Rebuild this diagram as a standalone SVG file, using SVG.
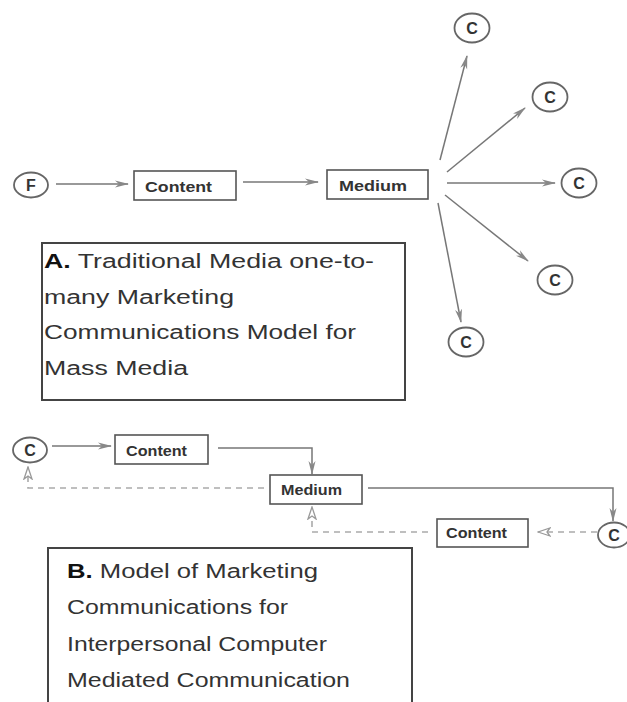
<svg xmlns="http://www.w3.org/2000/svg" width="627" height="702" viewBox="0 0 627 702">
<style>
.node{fill:#fff;stroke:#555;stroke-width:1.6}
.circ{fill:#fff;stroke:#666;stroke-width:1.8}
.lbl{font-family:"Liberation Sans",Arial,sans-serif;font-weight:bold;font-size:15px;fill:#333}
.cl{font-family:"Liberation Sans",Arial,sans-serif;font-weight:bold;font-size:16px;fill:#333;text-anchor:middle}
.cap{font-family:"Liberation Sans",Arial,sans-serif;font-size:20px;fill:#333}
.capb{font-weight:bold;fill:#111}
.box{fill:#fff;stroke:#444;stroke-width:2}
.ln{fill:none;stroke:#777;stroke-width:1.5}
.dash{fill:none;stroke:#aaa;stroke-width:1.6;stroke-dasharray:6 5}
</style>
<defs>
<marker id="ah" viewBox="0 0 14 8" refX="13" refY="4" markerWidth="14" markerHeight="8" markerUnits="userSpaceOnUse" orient="auto">
<path d="M0,0.5 L14,4 L0,7.5 L4,4 z" fill="#888"/>
</marker>
<marker id="oh" viewBox="0 0 14 10" refX="13" refY="5" markerWidth="14" markerHeight="10" markerUnits="userSpaceOnUse" orient="auto">
<path d="M1,1 L13,5 L1,9 L4,5 z" fill="#fff" stroke="#999" stroke-width="1.3"/>
</marker>
</defs>
<g id="connectors">
<line class="ln" x1="56" y1="184" x2="128" y2="184" marker-end="url(#ah)"/>
<line class="ln" x1="243" y1="182" x2="318" y2="182" marker-end="url(#ah)"/>
<line class="ln" x1="440" y1="160" x2="467" y2="56" marker-end="url(#ah)"/>
<line class="ln" x1="447" y1="172" x2="525" y2="108" marker-end="url(#ah)"/>
<line class="ln" x1="447" y1="183" x2="555" y2="183" marker-end="url(#ah)"/>
<line class="ln" x1="445" y1="195" x2="528" y2="261" marker-end="url(#ah)"/>
<line class="ln" x1="438" y1="203" x2="461" y2="322" marker-end="url(#ah)"/>
<line class="ln" x1="52" y1="446" x2="111" y2="446" marker-end="url(#ah)"/>
<polyline class="ln" points="218,448 312,448 312,474" marker-end="url(#ah)"/>
<polyline class="ln" points="368,488 613,488 613,521" marker-end="url(#ah)"/>
<polyline class="dash" points="264,488 28,488 28,467" marker-end="url(#oh)"/>
<polyline class="dash" points="597,532 538,532" marker-end="url(#oh)"/>
<polyline class="dash" points="428,532 312,532 312,507" marker-end="url(#oh)"/>
</g>
<g id="F"><ellipse class="circ" cx="31" cy="185" rx="17" ry="12.5"/><text class="cl" x="31" y="191">F</text></g>
<g id="content-top"><rect class="node" x="134" y="171" width="102" height="29"/><text class="lbl" x="145" y="192" textLength="67" lengthAdjust="spacingAndGlyphs">Content</text></g>
<g id="medium-top"><rect class="node" x="327" y="170" width="101" height="29"/><text class="lbl" x="339" y="191" textLength="68" lengthAdjust="spacingAndGlyphs">Medium</text></g>
<g id="c1"><ellipse class="circ" cx="472" cy="28" rx="17.5" ry="14.5"/><text class="cl" x="472" y="34">C</text></g>
<g id="c2"><ellipse class="circ" cx="550" cy="97" rx="17.5" ry="14.5"/><text class="cl" x="550" y="103">C</text></g>
<g id="c3"><ellipse class="circ" cx="579" cy="183" rx="17.5" ry="14.5"/><text class="cl" x="579" y="189">C</text></g>
<g id="c4"><ellipse class="circ" cx="555" cy="280" rx="17.5" ry="14.5"/><text class="cl" x="555" y="286">C</text></g>
<g id="c5"><ellipse class="circ" cx="466" cy="342" rx="17.5" ry="14.5"/><text class="cl" x="466" y="348">C</text></g>
<g id="caption-a">
<rect class="box" x="42" y="243" width="363" height="157"/>
<text class="cap" x="44" y="268" textLength="330" lengthAdjust="spacingAndGlyphs"><tspan class="capb">A.</tspan>  Traditional Media one-to-</text>
<text class="cap" x="44" y="304" textLength="190" lengthAdjust="spacingAndGlyphs">many Marketing</text>
<text class="cap" x="44" y="339" textLength="312" lengthAdjust="spacingAndGlyphs">Communications Model for</text>
<text class="cap" x="44" y="375" textLength="144" lengthAdjust="spacingAndGlyphs">Mass Media</text>
</g>
<g id="c-left"><ellipse class="circ" cx="30" cy="450" rx="17" ry="12.5"/><text class="cl" x="30" y="456">C</text></g>
<g id="content-b1"><rect class="node" x="115" y="435" width="93" height="29"/><text class="lbl" x="126" y="456" textLength="61" lengthAdjust="spacingAndGlyphs">Content</text></g>
<g id="medium-b"><rect class="node" x="270" y="475" width="92" height="29"/><text class="lbl" x="281" y="495" textLength="61" lengthAdjust="spacingAndGlyphs">Medium</text></g>
<g id="content-b2"><rect class="node" x="437" y="519" width="91" height="28"/><text class="lbl" x="446" y="538" textLength="61" lengthAdjust="spacingAndGlyphs">Content</text></g>
<g id="c-right"><ellipse class="circ" cx="614" cy="535" rx="16" ry="12.5"/><text class="cl" x="614" y="541">C</text></g>
<g id="caption-b">
<path class="box" d="M48,712 L48,548 L412,548 L412,712"/>
<text class="cap" x="67" y="578" textLength="251" lengthAdjust="spacingAndGlyphs"><tspan class="capb">B.</tspan> Model of Marketing</text>
<text class="cap" x="67" y="614" textLength="221" lengthAdjust="spacingAndGlyphs">Communications for</text>
<text class="cap" x="67" y="651" textLength="260" lengthAdjust="spacingAndGlyphs">Interpersonal Computer</text>
<text class="cap" x="67" y="687" textLength="283" lengthAdjust="spacingAndGlyphs">Mediated Communication</text>
</g>
</svg>
